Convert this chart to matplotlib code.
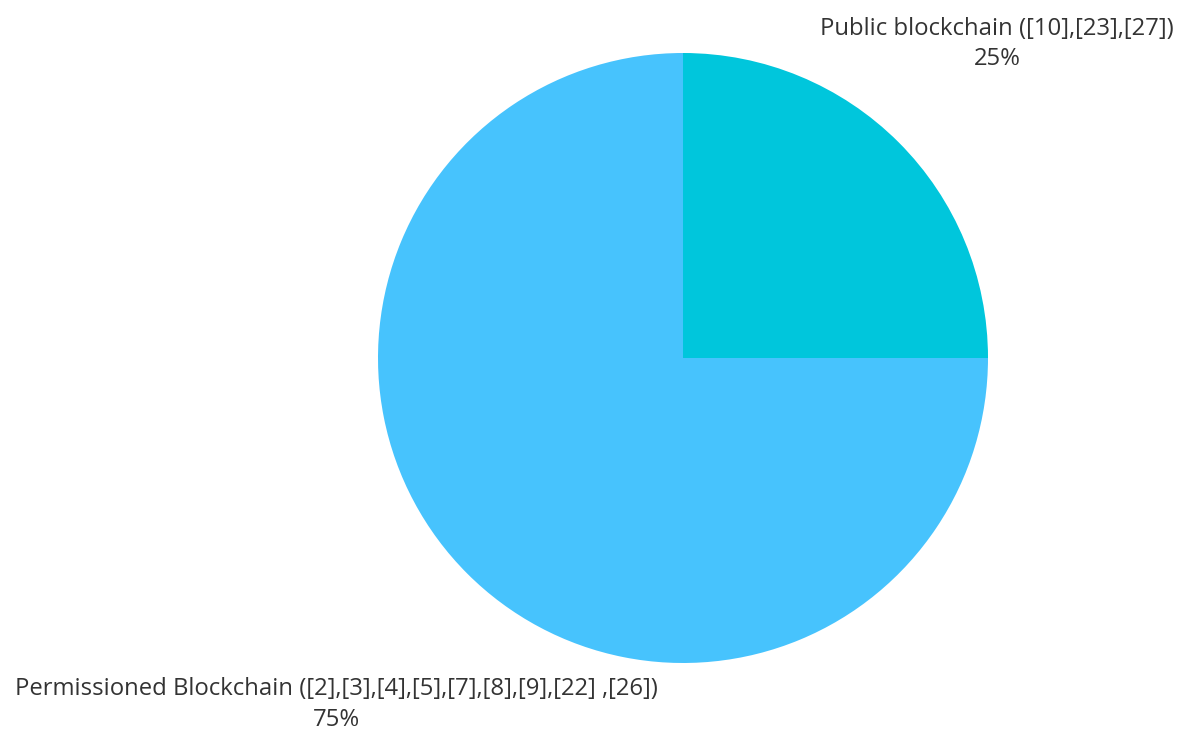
import numpy as np
import matplotlib.pyplot as plt

plt.rcParams['font.family'] = ['Open Sans', 'DejaVu Sans']

labels = ['Public blockchain ([10],[23],[27])',
          'Permissioned Blockchain ([2],[3],[4],[5],[7],[8],[9],[22] ,[26])']
shares = [25, 75]
colors = ['#00C6DC', '#47C3FD']
label_dist = [1.456, 1.607]

W, H = 1185, 733
fig = plt.figure(figsize=(W / 100, H / 100), dpi=100)
ax = fig.add_axes([0, 0, 1, 1])

cx, cy, r = 683, 358, 305
wedges, _ = ax.pie(shares, colors=colors, startangle=90, counterclock=False,
                   radius=1, center=(0, 0), wedgeprops=dict(linewidth=0))

# label each slice along its mid angle
for w, lab, val, d in zip(wedges, labels, shares, label_dist):
    mid = np.deg2rad((w.theta1 + w.theta2) / 2)
    x, y = d * np.cos(mid), d * np.sin(mid)
    ax.text(x, y, f'{lab}\n{val}%', ha='center', va='center',
            fontsize=17.2, color='#333333', linespacing=1.35)

ax.set_xlim(-cx / r, (W - cx) / r)
ax.set_ylim(-(H - cy) / r, cy / r)
ax.set_aspect('equal')
ax.axis('off')

plt.savefig('out.png', dpi=100)
